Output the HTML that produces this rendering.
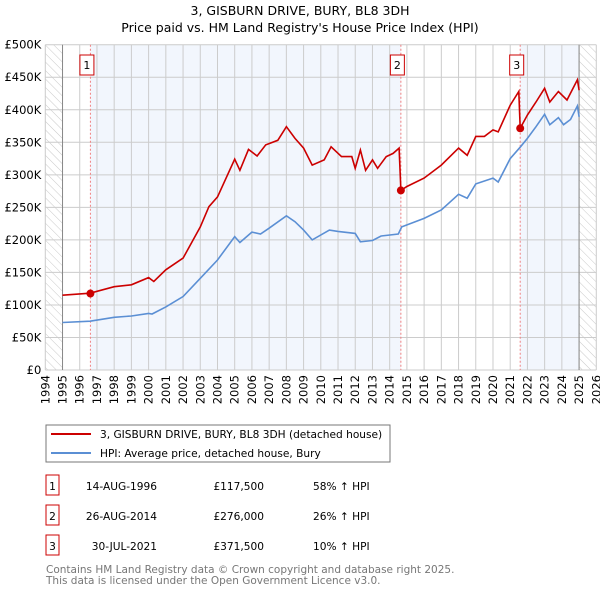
<!DOCTYPE html>
<html><head><meta charset="utf-8"><style>
body{margin:0;background:#fff;font-family:"Liberation Sans","DejaVu Sans",sans-serif;}
svg text{font-family:"DejaVu Sans","Liberation Sans",sans-serif;}
</style></head><body>
<svg id="c" width="600" height="590" xmlns="http://www.w3.org/2000/svg">
<defs><pattern id="hatch" width="6" height="6" patternUnits="userSpaceOnUse" patternTransform="rotate(-45)"><line x1="0" y1="0" x2="0" y2="6" stroke="#bbb" stroke-width="0.8"/></pattern></defs>
<text x="300" y="15" text-anchor="middle" font-size="12.5" fill="#000">3, GISBURN DRIVE, BURY, BL8 3DH</text>
<text x="300" y="32" text-anchor="middle" font-size="12.5" fill="#000">Price paid vs. HM Land Registry's House Price Index (HPI)</text>
<g id="plot"></g>
<g>
<rect x="46" y="425" width="344" height="37" fill="#fff" stroke="#777"/>
<line x1="51" y1="434" x2="91" y2="434" stroke="#cc0000" stroke-width="2"/>
<text x="100" y="438" font-size="10.6">3, GISBURN DRIVE, BURY, BL8 3DH (detached house)</text>
<line x1="51" y1="453" x2="91" y2="453" stroke="#5b8fd4" stroke-width="2"/>
<text x="100" y="457" font-size="10.6">HPI: Average price, detached house, Bury</text>
</g>
<g id="table" font-size="10.6"></g>
<text x="46" y="573" font-size="10.5" fill="#777">Contains HM Land Registry data © Crown copyright and database right 2025.</text>
<text x="46" y="584" font-size="10.5" fill="#777">This data is licensed under the Open Government Licence v3.0.</text>
</svg>
<script>
const yTicks=[0,50,100,150,200,250,300,350,400,450,500];
const yLabels=["£0","£50K","£100K","£150K","£200K","£250K","£300K","£350K","£400K","£450K","£500K"];
const years=[1994,1995,1996,1997,1998,1999,2000,2001,2002,2003,2004,2005,2006,2007,2008,2009,2010,2011,2012,2013,2014,2015,2016,2017,2018,2019,2020,2021,2022,2023,2024,2025,2026];
const hpiX=[1995,1996.6,1998,1999,2000,2000.2,2001,2002,2003,2004,2005,2005.3,2006,2006.5,2007,2008,2008.5,2009,2009.5,2010.5,2011,2012,2012.3,2013,2013.5,2014.5,2014.7,2016,2017,2018,2018.5,2019,2020,2020.3,2021,2021.6,2022,2022.5,2023,2023.3,2023.8,2024.1,2024.5,2024.9,2025];
const hpiY=[73,75,81,83,87,86,97,113,141,169,205,196,212,209,218,237,228,215,200,215,213,210,197,199,206,209,220,233,246,270,264,286,295,289,325,343,356,374,393,377,388,377,385,406,389];
const priceX=[1995,1996.6,1998,1999,2000,2000.3,2001,2002,2003,2003.5,2004,2005,2005.3,2005.8,2006.3,2006.8,2007.5,2008,2008.5,2009,2009.5,2010.2,2010.6,2011.2,2011.8,2012,2012.3,2012.6,2013,2013.3,2013.8,2014.2,2014.55,2014.65,2015,2016,2017,2018,2018.5,2019,2019.5,2020,2020.3,2021,2021.5,2021.58,2022,2022.5,2023,2023.3,2023.8,2024.3,2024.9,2025];
const priceY=[115,118,128,131,142,136,154,172,220,251,266,324,307,339,329,346,353,374,356,341,315,323,343,328,328,310,338,307,323,310,328,333,341,276,282,295,315,341,330,359,359,369,366,407,428,371.5,392,412,433,412,428,415,446,430];
const saleLabels=["1","2","3"];
const saleX=[1996.62,2014.65,2021.58];
const saleY=[117.5,276,371.5];
const saleDates=["14-AUG-1996","26-AUG-2014","30-JUL-2021"];
const salePrices=["£117,500","£276,000","£371,500"];
const saleDiffs=["58% ↑ HPI","26% ↑ HPI","10% ↑ HPI"];

const L=45.3,R=596.3,T=44.7,B=370;
const xs=y=>L+(y-1994)/(2026-1994)*(R-L);
const ys=v=>B-v/500*(B-T);
const NS="http://www.w3.org/2000/svg";
const plot=document.getElementById('plot');
function mk(tag,attrs,parent){const e=document.createElementNS(NS,tag);for(const k in attrs)e.setAttribute(k,attrs[k]);(parent||plot).appendChild(e);return e;}
mk('rect',{x:L,y:T,width:R-L,height:B-T,fill:'#fff'});
let r;
r=mk('rect',{x:xs(1994),y:T,width:xs(1995)-xs(1994),height:B-T,fill:'url(#hatch)'});


r=mk('rect',{x:xs(2025),y:T,width:xs(2026)-xs(2025),height:B-T,fill:'url(#hatch)'});


r=mk('rect',{x:xs(saleX[0]),y:T,width:xs(saleX[1])-xs(saleX[0]),height:B-T,fill:'#f2f6fd'});


r=mk('rect',{x:xs(saleX[2]),y:T,width:xs(2025)-xs(saleX[2]),height:B-T,fill:'#f2f6fd'});


years.forEach(y=>{const l=mk('line',{x1:xs(y),x2:xs(y),y1:T,y2:B,stroke:'#ccc','stroke-width':1});


const t=mk('text',{x:0,y:0,'font-size':11.5,'text-anchor':'end',transform:`translate(${xs(y)+4},${B+5}) rotate(-90)`});t.textContent=y;

});
yTicks.forEach((v,i)=>{const l=mk('line',{x1:L,x2:R,y1:ys(v),y2:ys(v),stroke:'#ccc','stroke-width':1});


const t=mk('text',{x:L-4,y:ys(v)+4,'font-size':11.5,'text-anchor':'end'});t.textContent=yLabels[i];

});
mk('line',{x1:xs(1995),x2:xs(1995),y1:T,y2:B,stroke:'#888'});
mk('line',{x1:xs(2025),x2:xs(2025),y1:T,y2:B,stroke:'#888'});
saleX.forEach((x,i)=>{const l=mk('line',{x1:xs(x),x2:xs(x),y1:T,y2:B,stroke:'#f08080','stroke-dasharray':'2,2'});

});
function path(X,Y,col,name){const d=X.map((x,i)=>(i?'L':'M')+xs(x).toFixed(1)+','+ys(Y[i]).toFixed(1)).join('');
const p=mk('path',{d:d,fill:'none',stroke:col,'stroke-width':1.6});

}
path(hpiX,hpiY,'#5b8fd4','hpi-line');
path(priceX,priceY,'#cc0000','price-line');
saleX.forEach((x,i)=>{const c=mk('circle',{cx:xs(x),cy:ys(saleY[i]),r:4,fill:'#cc0000'});


const b=mk('rect',{x:xs(x)-10.5,y:55,width:14,height:20,fill:'#fff',stroke:'#cc0000'});


const t=mk('text',{x:xs(x)-3.5,y:69,'font-size':11,'text-anchor':'middle'});t.textContent=saleLabels[i];

});
const tb=document.getElementById('table');
saleLabels.forEach((s,i)=>{const y=486+i*30;
const b=mk('rect',{x:46,y:y-11,width:13,height:20,fill:'#fff',stroke:'#cc0000'},tb);


const vals=[[s,52.5,'middle'],[saleDates[i],157,'end'],[salePrices[i],264,'end'],[saleDiffs[i],313,'start']];
vals.forEach(v=>{const t=mk('text',{x:v[1],y:y+4,'text-anchor':v[2]},tb);t.textContent=v[0];

});});
</script>
</body></html>
